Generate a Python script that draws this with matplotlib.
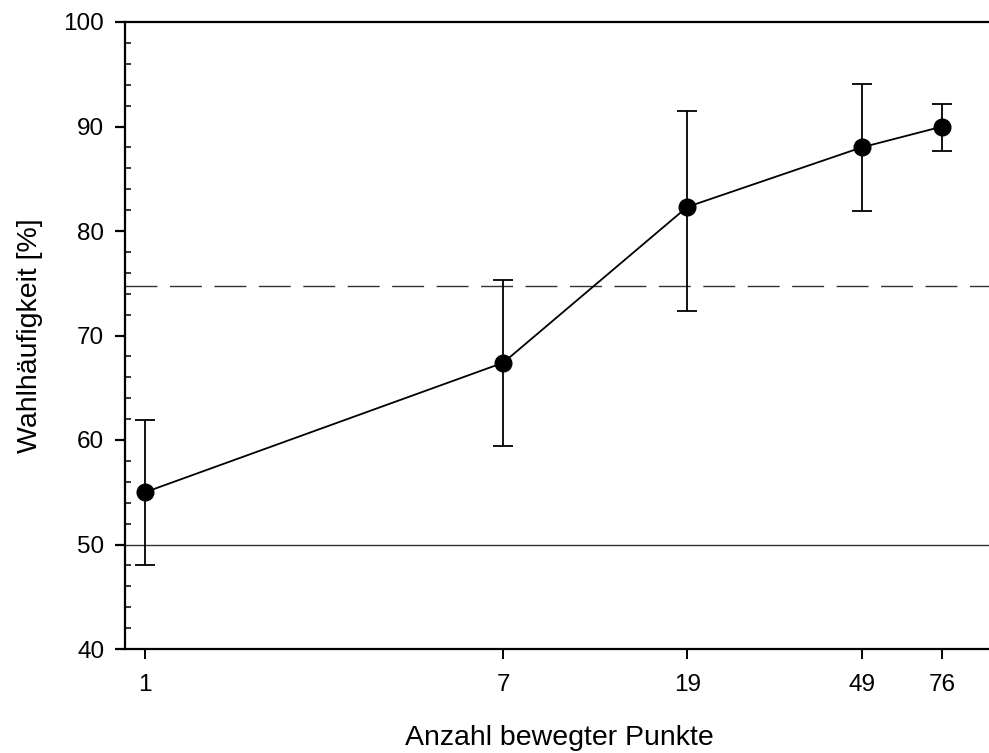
import matplotlib
matplotlib.use("Agg")
import matplotlib.pyplot as plt
from matplotlib.ticker import FixedLocator, MultipleLocator, NullLocator

plt.rcParams['font.family'] = ['Liberation Sans', 'DejaVu Sans']

# Number of moving points and mean choice frequency with asymmetric error ranges
points = [1, 7, 19, 49, 76]
frequency = [55.0, 67.4, 82.3, 88.0, 90.0]
err_low = [48.0, 59.4, 72.3, 81.9, 87.7]
err_high = [61.9, 75.3, 91.5, 94.1, 92.2]
threshold = 74.7
chance = 50.0
x_tick_labels = ['1', '7', '19', '49', '76']
y_ticks = [40, 50, 60, 70, 80, 90, 100]

fig = plt.figure(figsize=(9.89, 7.53), dpi=100)
ax = fig.add_axes([125 / 989, 104 / 753, 868 / 989, 627 / 753])

ax.set_xscale('log')
ax.set_xlim(0.897, 100)
ax.set_ylim(40, 100)

ax.axhline(chance, color='#333333', lw=1.0, zorder=1)
ax.axhline(threshold, color='#333333', lw=1.0, dashes=(23, 9), zorder=1)

yerr = [[f - lo for f, lo in zip(frequency, err_low)],
        [hi - f for f, hi in zip(frequency, err_high)]]
ax.errorbar(points, frequency, yerr=yerr, color='black', lw=1.3,
            elinewidth=1.3, capsize=7, capthick=1.3, marker='o',
            markersize=12, zorder=3)

ax.xaxis.set_major_locator(FixedLocator(points))
ax.xaxis.set_minor_locator(NullLocator())
ax.set_xticklabels(x_tick_labels)
ax.yaxis.set_major_locator(FixedLocator(y_ticks))
ax.yaxis.set_minor_locator(MultipleLocator(2))

for s in ax.spines.values():
    s.set_linewidth(1.6)

ax.tick_params(axis='x', which='major', direction='out', length=7, width=1.4,
               labelsize=17.5, pad=11)
ax.tick_params(axis='y', which='major', direction='out', length=7, width=1.6,
               labelsize=17.5, pad=8)
ax.tick_params(axis='y', which='minor', direction='in', length=4, width=1.1)
ax.tick_params(axis='y', which='major', right=True)

ax.set_xlabel('Anzahl bewegter Punkte', fontsize=20.5, labelpad=21)
ax.set_ylabel('Wahlhäufigkeit [%]', fontsize=20.5, labelpad=15)

fig.savefig('out.png', dpi=100)
